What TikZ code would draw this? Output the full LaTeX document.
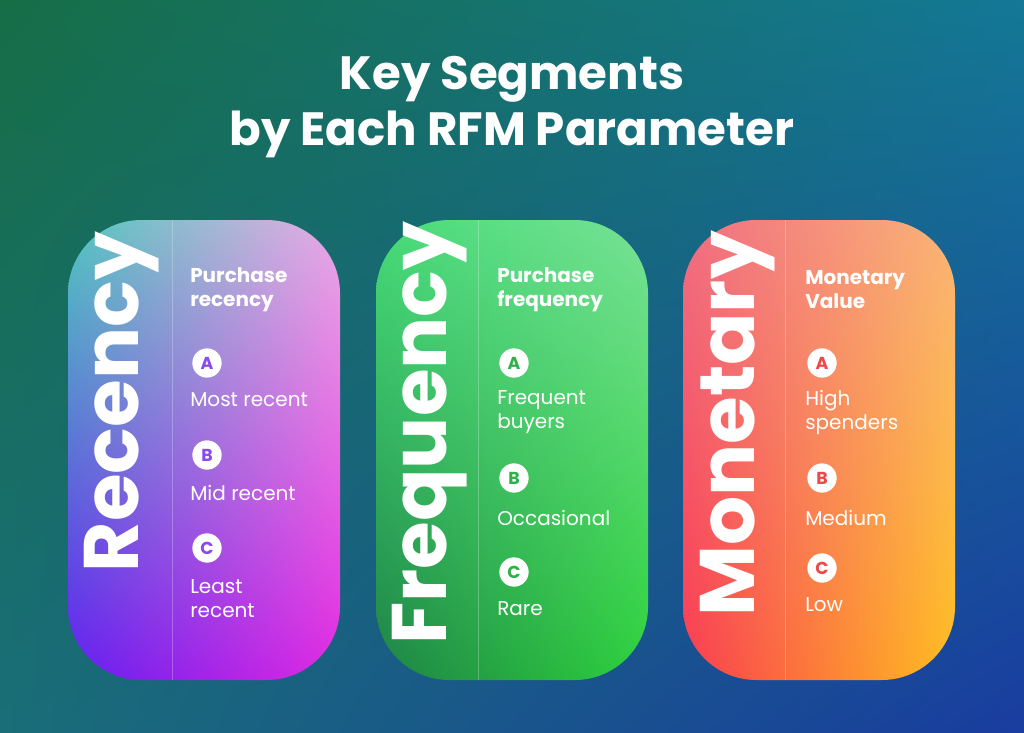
\documentclass[tikz,border=0pt]{standalone}
\usepackage{fontspec}
\setmainfont{Poppins}
\usetikzlibrary{shadings}
\tikzstyle{every node}=[text=white,inner sep=0pt]
\tikzstyle{heading}=[anchor=west,font=\fontsize{15}{18}\selectfont\bfseries,align=left]
\tikzstyle{item}=[anchor=west,font=\fontsize{15}{18}\selectfont,align=left]
\tikzstyle{bigname}=[rotate=90,font=\fontsize{58}{60}\selectfont\bfseries]
\tikzstyle{badge}=[circle,fill=white,minimum size=22pt,font=\fontsize{13}{13}\selectfont\bfseries]
\definecolor{recc}{HTML}{8A4AF0}
\definecolor{frqc}{HTML}{2FB04A}
\definecolor{monc}{HTML}{F04848}
\definecolor{bgul}{RGB}{22,110,70}
\definecolor{bgur}{RGB}{20,120,150}
\definecolor{bgll}{RGB}{25,110,120}
\definecolor{bglr}{RGB}{25,60,160}
\definecolor{rul}{RGB}{80,200,190}
\definecolor{rur}{RGB}{235,170,230}
\definecolor{rll}{RGB}{100,30,240}
\definecolor{rlr}{RGB}{225,40,225}
\definecolor{ful}{RGB}{70,220,120}
\definecolor{fur}{RGB}{120,225,150}
\definecolor{fll}{RGB}{30,130,70}
\definecolor{flr}{RGB}{45,210,60}
\definecolor{mul}{RGB}{240,110,130}
\definecolor{mur}{RGB}{250,180,120}
\definecolor{mll}{RGB}{250,60,80}
\definecolor{mlr}{RGB}{255,190,30}
\begin{document}
\begin{tikzpicture}[x=0.75pt,y=-0.75pt]
\useasboundingbox (0,0) rectangle (1024,732);
% background
\shade[upper left=bgul,upper right=bgur,lower left=bgll,lower right=bglr]
  (0,0) rectangle (1024,732);
\node[font=\fontsize{35}{42}\selectfont\bfseries,align=center] (title) at (512,107)
  {Key Segments\\by Each RFM Parameter};

% cards
\shade[rounded corners=55pt,upper left=rul,upper right=rur,lower left=rll,lower right=rlr]
  (68,220) rectangle (340,680);
\shade[rounded corners=55pt,upper left=ful,upper right=fur,lower left=fll,lower right=flr]
  (376,220) rectangle (648,680);
\shade[rounded corners=55pt,upper left=mul,upper right=mur,lower left=mll,lower right=mlr]
  (683,220) rectangle (955,680);
\draw[white,opacity=0.25] (172,220) -- (172,680);
\draw[white,opacity=0.25] (478,220) -- (478,680);
\draw[white,opacity=0.25] (785,220) -- (785,680);

% recency
\node[bigname] (rname) at (122,402) {Recency};
\node[heading] (rhead) at (190,290) {Purchase\\recency};
\node[badge,text=recc] (ra) at (207,363) {A};
\node[item] (ral) at (190,400) {Most recent};
\node[badge,text=recc] (rb) at (207,455) {B};
\node[item] (rbl) at (190,493) {Mid recent};
\node[badge,text=recc] (rc) at (207,548) {C};
\node[item] (rcl) at (190,599) {Least\\recent};

% frequency
\node[bigname] (fname) at (430,433) {Frequency};
\node[heading] (fhead) at (497,290) {Purchase\\frequency};
\node[badge,text=frqc] (fa) at (514,363) {A};
\node[item] (fal) at (497,412) {Frequent\\buyers};
\node[badge,text=frqc] (fb) at (514,478) {B};
\node[item] (fbl) at (497,518) {Occasional};
\node[badge,text=frqc] (fc) at (514,572) {C};
\node[item] (fcl) at (497,609) {Rare};

% monetary
\node[bigname] (mname) at (738,424) {Monetary};
\node[heading] (mhead) at (805,290) {Monetary\\Value};
\node[badge,text=monc] (ma) at (822,363) {A};
\node[item] (mal) at (805,412) {High\\spenders};
\node[badge,text=monc] (mb) at (822,478) {B};
\node[item] (mbl) at (805,518) {Medium};
\node[badge,text=monc] (mc) at (822,568) {C};
\node[item] (mcl) at (805,605) {Low};
\end{tikzpicture}
\end{document}
